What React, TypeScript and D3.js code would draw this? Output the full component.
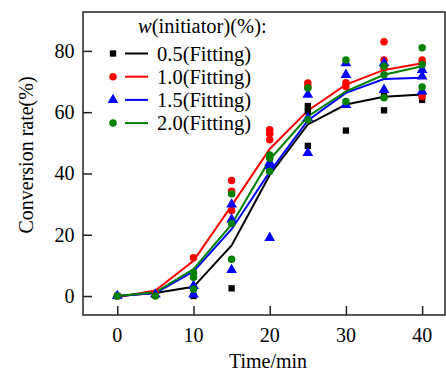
import React, { useRef, useEffect } from 'react';
import * as d3 from 'd3';

// Sampling times (min)
const times = [0, 5, 10, 15, 20, 25, 30, 35, 40];

// Fitted curves, one value per time
const fit05 = [0, 1, 3, 16.5, 39.5, 56, 62.5, 65, 65.8];
const fit10 = [-0.4, 1.8, 11.5, 29.5, 48, 60.5, 69, 73.8, 76];
const fit15 = [0, 1, 8, 21.8, 40.5, 57.3, 66.3, 70.8, 71.2];
const fit20 = [0, 1.2, 8.8, 23.4, 44.5, 58.6, 66.8, 72.2, 75];

// Measured points [time, conversion]
const pts05: [number, number][] = [
  [0, 0], [5, 0.5], [10, 0], [15, 2.5], [20, 41], [25, 62], [25, 60.3], [25, 49],
  [30, 54], [30, 62.5], [35, 60.6], [35, 65.5], [40, 64], [40, 66],
];
const pts10: [number, number][] = [
  [0, 0], [5, 0.8], [10, 12.5], [15, 37.7], [15, 34.2], [15, 27.9], [20, 54.3], [20, 53], [20, 51],
  [25, 69.5], [25, 68.3], [30, 69.6], [30, 68.4], [35, 83], [35, 77], [35, 74.5],
  [40, 77], [40, 76], [40, 65.1],
];
const pts15: [number, number][] = [
  [0, 0], [5, 0.5], [10, 3.3], [10, 0.5], [15, 29.9], [15, 25], [15, 8.5], [20, 43.5], [20, 42.5], [20, 19],
  [25, 65.7], [25, 58.1], [25, 46.7], [30, 76], [30, 72.2], [30, 62.4], [35, 76], [35, 67.3],
  [40, 73.8], [40, 71.7], [40, 66.8],
];
const pts20: [number, number][] = [
  [0, 0], [5, 0], [10, 7.7], [10, 6.1], [10, 2.2], [15, 33.4], [15, 23.7], [15, 12], [20, 46], [20, 45], [20, 40.7],
  [25, 67.9], [25, 57.5], [30, 77], [30, 63.5], [35, 75], [35, 72.2], [35, 64.7],
  [40, 81], [40, 75.5], [40, 68.2],
];

const labels = ['0.5(Fitting)', '1.0(Fitting)', '1.5(Fitting)', '2.0(Fitting)'];
const xTicks = [0, 10, 20, 30, 40];
const yTicks = [0, 20, 40, 60, 80];

const App = () => {
  const svgRef = useRef<SVGSVGElement>(null);

  useEffect(() => {
    const svg = d3.select(svgRef.current);
    svg.selectAll('*').remove();

    const width = 446;
    const height = 374;
    const margin = { top: 12, right: 1, bottom: 59, left: 83 };
    const font = '"Liberation Serif", "Times New Roman", serif';

    const colors = ['#000000', '#ff0000', '#0000ff', '#008000'];
    const shapes = [d3.symbolSquare, d3.symbolCircle, d3.symbolTriangle, d3.symbolCircle];
    const sizes = [40, 44, 50, 44];
    const fits = [fit05, fit10, fit15, fit20];
    const pts = [pts05, pts10, pts15, pts20];

    const x = d3.scaleLinear().domain([-4.5, 43]).range([margin.left, width - margin.right]);
    const y = d3.scaleLinear().domain([-6.2, 92.7]).range([height - margin.bottom, margin.top]);

    // frame
    svg.append('rect')
      .attr('x', margin.left)
      .attr('y', margin.top)
      .attr('width', width - margin.right - margin.left)
      .attr('height', height - margin.bottom - margin.top)
      .attr('fill', 'none')
      .attr('stroke', '#222')
      .attr('stroke-width', 1.5);

    // axes, ticks pointing inward
    const xAxis = svg.append('g')
      .attr('transform', `translate(0,${height - margin.bottom})`)
      .call(d3.axisTop(x).tickValues(xTicks).tickSize(9).tickFormat(() => ''));
    xAxis.select('.domain').remove();
    xAxis.selectAll('line').attr('stroke', '#222').attr('stroke-width', 1.5);

    const yAxis = svg.append('g')
      .attr('transform', `translate(${margin.left},0)`)
      .call(d3.axisRight(y).tickValues(yTicks).tickSize(9).tickFormat(() => ''));
    yAxis.select('.domain').remove();
    yAxis.selectAll('line').attr('stroke', '#222').attr('stroke-width', 1.5);

    // tick labels
    svg.append('g').selectAll('text')
      .data(xTicks)
      .join('text')
      .attr('x', d => x(d))
      .attr('y', 341.5)
      .attr('text-anchor', 'middle')
      .attr('font-family', font)
      .attr('font-size', 20)
      .text(d => d);

    svg.append('g').selectAll('text')
      .data(yTicks)
      .join('text')
      .attr('x', 74.5)
      .attr('y', d => y(d))
      .attr('dy', '0.34em')
      .attr('text-anchor', 'end')
      .attr('font-family', font)
      .attr('font-size', 20)
      .text(d => d);

    // axis titles
    svg.append('text')
      .attr('x', 268)
      .attr('y', 368)
      .attr('text-anchor', 'middle')
      .attr('font-family', font)
      .attr('font-size', 20)
      .text('Time/min');

    svg.append('text')
      .attr('transform', `translate(32.5,155) rotate(-90)`)
      .attr('text-anchor', 'middle')
      .attr('font-family', font)
      .attr('font-size', 20)
      .text('Conversion rate(%)');

    // fitted lines
    const line = d3.line<number>().x((d, i) => x(times[i])).y(d => y(d));
    fits.forEach((f, i) => {
      svg.append('path')
        .datum(f)
        .attr('d', line)
        .attr('fill', 'none')
        .attr('stroke', colors[i])
        .attr('stroke-width', 2);
    });

    // measured points
    pts.forEach((p, i) => {
      svg.append('g').selectAll('path')
        .data(p)
        .join('path')
        .attr('transform', d => `translate(${x(d[0])},${y(d[1])})`)
        .attr('d', d3.symbol().type(shapes[i]).size(sizes[i]))
        .attr('fill', colors[i]);
    });

    // legend
    const lg = svg.append('g');
    const title = lg.append('text')
      .attr('x', 138)
      .attr('y', 33)
      .attr('font-family', font)
      .attr('font-size', 20.5);
    title.append('tspan').attr('font-style', 'italic').text('w');
    title.append('tspan').text('(initiator)(%):');

    labels.forEach((lab, i) => {
      const cy = 53.5 + i * 23.2;
      lg.append('path')
        .attr('transform', `translate(113,${cy})`)
        .attr('d', d3.symbol().type(shapes[i]).size(sizes[i]))
        .attr('fill', colors[i]);
      lg.append('line')
        .attr('x1', 125).attr('x2', 148)
        .attr('y1', cy).attr('y2', cy)
        .attr('stroke', colors[i])
        .attr('stroke-width', 2);
      lg.append('text')
        .attr('x', 157)
        .attr('y', cy + 7)
        .attr('font-family', font)
        .attr('font-size', 20.5)
        .text(lab);
    });
  }, []);

  return (
    <svg ref={svgRef} width={446} height={374} style={{ position: 'absolute', left: 0, top: 0, background: '#fff' }}></svg>
  );
};

export default App;
